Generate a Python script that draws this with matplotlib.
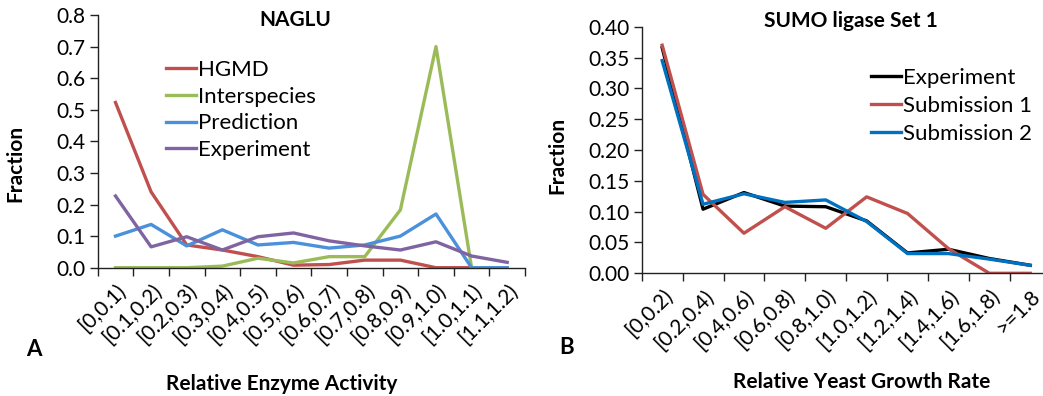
import matplotlib
matplotlib.use("Agg")
import matplotlib.pyplot as plt
from matplotlib.ticker import FixedLocator, FormatStrFormatter

plt.rcParams['font.family'] = ['Lato', 'DejaVu Sans']

# ---- Panel A data (NAGLU) ----
naglu_cats = ["[0,0.1)", "[0.1,0.2)", "[0.2,0.3)", "[0.3,0.4)", "[0.4,0.5)", "[0.5,0.6)",
              "[0.6,0.7)", "[0.7,0.8)", "[0.8,0.9)", "[0.9,1.0)", "[1.0,1.1)", "[1.1,1.2)"]
hgmd = [0.523, 0.240, 0.072, 0.056, 0.035, 0.008, 0.010, 0.024, 0.024, 0.0, 0.0]
interspecies = [0.0, 0.0, 0.0, 0.005, 0.030, 0.015, 0.035, 0.035, 0.183, 0.700, 0.0, 0.0]
prediction = [0.100, 0.137, 0.069, 0.120, 0.072, 0.080, 0.062, 0.072, 0.100, 0.170, 0.0, 0.0]
experiment_a = [0.227, 0.066, 0.098, 0.056, 0.098, 0.110, 0.085, 0.069, 0.056, 0.082, 0.037, 0.017]

# ---- Panel B data (SUMO ligase Set 1) ----
sumo_cats = ["[0,0.2)", "[0.2,0.4)", "[0.4,0.6)", "[0.6,0.8)", "[0.8,1.0)", "[1.0,1.2)",
             "[1.2,1.4)", "[1.4,1.6)", "[1.6,1.8)", ">=1.8"]
experiment_b = [0.366, 0.104, 0.131, 0.109, 0.108, 0.085, 0.033, 0.039, 0.024, 0.013]
submission1 = [0.370, 0.128, 0.065, 0.108, 0.073, 0.124, 0.097, 0.040, 0.0, 0.0]
submission2 = [0.345, 0.112, 0.129, 0.115, 0.119, 0.084, 0.032, 0.032, 0.023, 0.013]

W, H = 1043, 396
fig = plt.figure(figsize=(W / 100, H / 100), dpi=100)

FS = 15
LFS = 16
LW = 2.4


def px_axes(x0, y_top, x1, y_bot):
    return fig.add_axes([x0 / W, 1 - y_bot / H, (x1 - x0) / W, (y_bot - y_top) / H])


def style_axes(ax, cats, ymax, ystep, fmt):
    n = len(cats)
    ax.set_xlim(-0.5, n - 0.5)
    ax.set_ylim(0, ymax)
    ax.spines['top'].set_visible(False)
    ax.spines['right'].set_visible(False)
    for s in ('left', 'bottom'):
        ax.spines[s].set_linewidth(1.0)
        ax.spines[s].set_color('#222222')
    ax.xaxis.set_major_locator(FixedLocator([i - 0.5 for i in range(n + 1)]))
    ax.xaxis.set_minor_locator(FixedLocator(list(range(n))))
    ax.set_xticklabels([])
    ax.set_xticklabels(cats, minor=True, rotation=45, ha='right', va='top',
                       rotation_mode='anchor', fontsize=FS)
    ax.tick_params(axis='x', which='major', direction='out', length=6, width=1, color='#222222')
    ax.tick_params(axis='x', which='minor', length=0, pad=9)
    nt = int(round(ymax / ystep))
    ax.yaxis.set_major_locator(FixedLocator([i * ystep for i in range(nt + 1)]))
    ax.yaxis.set_major_formatter(FormatStrFormatter(fmt))
    ax.tick_params(axis='y', direction='out', length=6, width=1, color='#222222',
                   labelsize=FS, pad=3)


# Panel A
axA = px_axes(97.7, 15.0, 525.0, 267.7)
style_axes(axA, naglu_cats, 0.8, 0.1, '%.1f')
xa = list(range(len(naglu_cats)))
axA.plot(xa[:len(hgmd)], hgmd, color='#C0504D', lw=LW, label='HGMD')
axA.plot(xa, interspecies, color='#9BBB59', lw=LW, label='Interspecies')
axA.plot(xa, prediction, color='#4A90DA', lw=LW, label='Prediction')
axA.plot(xa, experiment_a, color='#8064A2', lw=LW, label='Experiment')
axA.legend(loc='upper left', bbox_to_anchor=((166 - 97.7) / 427.3, 1 - (60 - 15) / 252.7),
           frameon=False, fontsize=LFS, handlelength=1.35, handletextpad=0.1,
           labelspacing=0.30, borderpad=0, borderaxespad=0)

# Panel B
axB = px_axes(641.7, 26.7, 641.7 + 409.0, 273.3)
style_axes(axB, sumo_cats, 0.40, 0.05, '%.2f')
xb = list(range(len(sumo_cats)))
axB.plot(xb, experiment_b, color='black', lw=LW, label='Experiment')
axB.plot(xb, submission1, color='#C0504D', lw=LW, label='Submission 1')
axB.plot(xb, submission2, color='#0070C0', lw=LW, label='Submission 2')
axB.legend(loc='upper left', bbox_to_anchor=((871 - 641.7) / 409.0, 1 - (68 - 26.7) / 246.6),
           frameon=False, fontsize=LFS, handlelength=1.35, handletextpad=0.1,
           labelspacing=0.36, borderpad=0, borderaxespad=0)

# Titles and labels
fig.text(295 / W, 1 - 20 / H, 'NAGLU', ha='center', va='center', fontsize=FS, fontweight='bold')
fig.text(851 / W, 1 - 21 / H, 'SUMO ligase Set 1', ha='center', va='center', fontsize=FS, fontweight='bold')
fig.text(15 / W, 1 - 163 / H, 'Fraction', ha='center', va='center', rotation=90, fontsize=FS, fontweight='bold')
fig.text(557 / W, 1 - 155 / H, 'Fraction', ha='center', va='center', rotation=90, fontsize=FS, fontweight='bold')
fig.text(282 / W, 1 - 384 / H, 'Relative Enzyme Activity', ha='center', va='center', fontsize=FS, fontweight='bold')
fig.text(862 / W, 1 - 382 / H, 'Relative Yeast Growth Rate', ha='center', va='center', fontsize=FS, fontweight='bold')
fig.text(34 / W, 1 - 349 / H, 'A', ha='center', va='center', fontsize=FS + 1, fontweight='bold')
fig.text(567 / W, 1 - 348 / H, 'B', ha='center', va='center', fontsize=FS + 1, fontweight='bold')

fig.savefig('out.png', dpi=100)
